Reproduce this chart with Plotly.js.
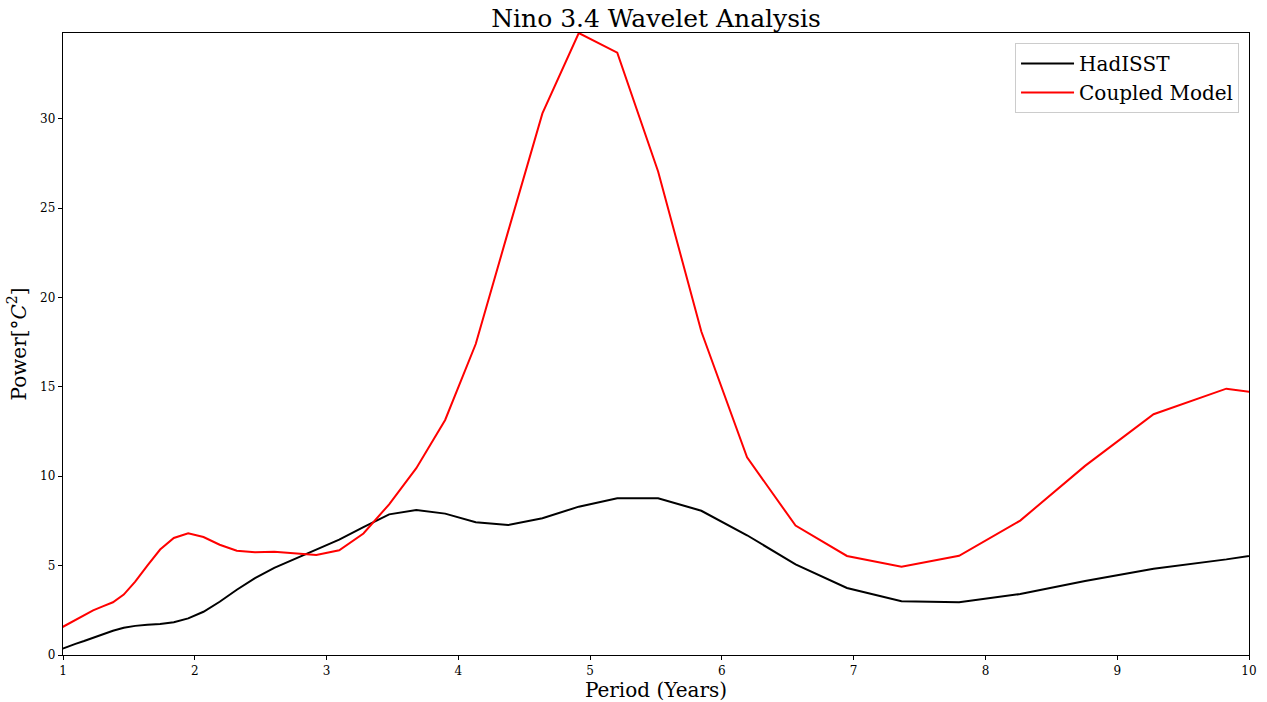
<!DOCTYPE html>
<html>
<head>
<meta charset="utf-8">
<script src="https://cdn.plot.ly/plotly-3.0.1.min.js"></script>
<style>html,body{margin:0;padding:0;background:#fff;}#chart{width:1267px;height:702px;}</style>
</head>
<body>
<div id="chart"></div>
<script>
// Period (years) of each wavelet scale
var periods = [0.975, 1.033, 1.0945, 1.160, 1.2285, 1.3015, 1.379, 1.461, 1.548, 1.640, 1.737, 1.841, 1.950, 2.066, 2.189, 2.319, 2.457, 2.603, 2.758, 2.922, 3.096, 3.280, 3.475, 3.681, 3.900, 4.132, 4.378, 4.638, 4.914, 5.206, 5.516, 5.844, 6.191, 6.559, 6.949, 7.363, 7.800, 8.264, 8.756, 9.276, 9.828, 10.412];
// Global wavelet power, HadISST observations
var hadisst = [0.30, 0.47, 0.62, 0.78, 0.97, 1.17, 1.36, 1.52, 1.63, 1.69, 1.73, 1.83, 2.05, 2.42, 2.98, 3.65, 4.30, 4.88, 5.38, 5.90, 6.45, 7.15, 7.87, 8.11, 7.91, 7.43, 7.27, 7.65, 8.30, 8.77, 8.77, 8.07, 6.70, 5.07, 3.75, 3.01, 2.95, 3.41, 4.14, 4.83, 5.35, 6.00];
// Global wavelet power, coupled model
var coupled = [1.48, 1.72, 1.97, 2.24, 2.50, 2.72, 2.95, 3.38, 4.10, 5.00, 5.90, 6.55, 6.81, 6.60, 6.17, 5.83, 5.75, 5.78, 5.71, 5.60, 5.86, 6.80, 8.43, 10.45, 13.15, 17.40, 23.70, 30.30, 34.80, 33.70, 27.05, 18.10, 11.06, 7.24, 5.54, 4.94, 5.55, 7.52, 10.58, 13.47, 14.90, 14.30];

var seriesNames = ['HadISST', 'Coupled Model'];
var xTicks = [1, 2, 3, 4, 5, 6, 7, 8, 9, 10];
var yTicks = [0, 5, 10, 15, 20, 25, 30];

var serif = 'DejaVu Serif, serif';

var traces = [
  {x: periods, y: hadisst, type: 'scatter', mode: 'lines', name: seriesNames[0],
   line: {color: '#000000', width: 2}},
  {x: periods, y: coupled, type: 'scatter', mode: 'lines', name: seriesNames[1],
   line: {color: '#ff0000', width: 2}}
];

var axisCommon = {
  showgrid: false, zeroline: false, showline: true, mirror: true,
  linecolor: '#000', linewidth: 1.2, ticks: 'outside', ticklen: 4, tickwidth: 1, tickcolor: '#000',
  tickfont: {family: serif, size: 12, color: '#000'}
};

var layout = {
  width: 1267, height: 702,
  margin: {l: 63, r: 18, t: 33, b: 47},
  paper_bgcolor: '#fff', plot_bgcolor: '#fff',
  title: {text: 'Nino 3.4 Wavelet Analysis', font: {family: serif, size: 25, color: '#000'},
          x: 0.5, xref: 'paper', xanchor: 'center', y: 1, yref: 'paper', yanchor: 'bottom', pad: {b: 6}},
  xaxis: Object.assign({}, axisCommon, {
    range: [1, 10], tickvals: xTicks, ticktext: xTicks.map(String),
    title: {text: 'Period (Years)', font: {family: serif, size: 20, color: '#000'}, standoff: 5}
  }),
  yaxis: Object.assign({}, axisCommon, {
    range: [0, 34.8], tickvals: yTicks, ticktext: yTicks.map(String),
    title: {text: 'Power[°<i>C</i><sup>2</sup>]', font: {family: serif, size: 20, color: '#000'}, standoff: 8}
  }),
  showlegend: true,
  legend: {x: 0.9916, y: 0.984, xanchor: 'right', yanchor: 'top',
           bgcolor: 'rgba(255,255,255,0.8)', bordercolor: '#cccccc', borderwidth: 1,
           font: {family: serif, size: 20, color: '#000'}, tracegroupgap: 0, itemwidth: 53}
};

Plotly.newPlot('chart', traces, layout, {displayModeBar: false, staticPlot: true});
</script>
</body>
</html>
